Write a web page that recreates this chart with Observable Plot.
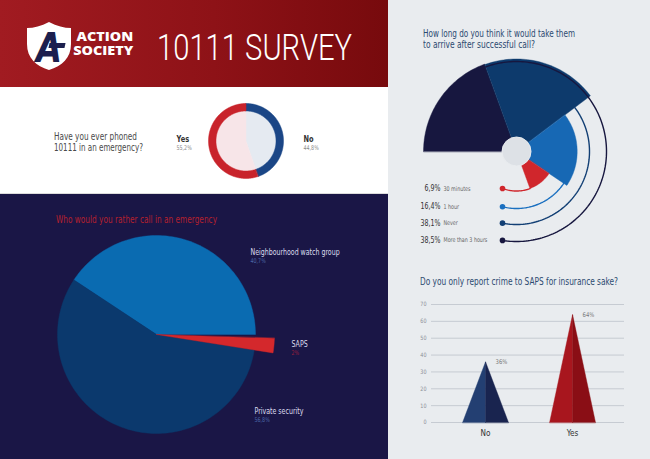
<!DOCTYPE html>
<html><head><meta charset="utf-8">
<script src="https://cdn.jsdelivr.net/npm/d3@7"></script>
<script src="https://cdn.jsdelivr.net/npm/@observablehq/plot@0.6"></script>
<style>
html,body{margin:0;padding:0;background:#e9ecef;}
#root{position:relative;width:650px;height:459px;overflow:hidden;background:#e9ecef;
 font-family:"Liberation Sans Narrow","DejaVu Sans Condensed","Roboto Condensed","Arial Narrow",sans-serif;}
.abs{position:absolute;}
.abs svg{display:block;}
</style></head><body><div id="root"></div>
<script>
// ---------------- DATA ----------------
const phonedCats = ["No", "Yes"];
const phonedVals = [44.8, 55.2];
const phonedPct = ["44,8%", "55,2%"];

const callCats = ["Neighbourhood watch group", "Private security", "SAPS"];
const callVals = [40.7, 56.8, 2];
const callPct = ["40,7%", "56,8%", "2%"];

const arriveCats = ["More than 3 hours", "Never", "1 hour", "30 minutes"];
const arriveVals = [38.5, 38.1, 16.4, 6.9];
const arrivePct = ["38,5%", "38,1%", "16,4%", "6,9%"];

const insureCats = ["No", "Yes"];
const insureVals = [36, 64];
const insureTicks = [0, 10, 20, 30, 40, 50, 60, 70];

// ---------------- HELPERS ----------------
const root = document.getElementById("root");
const FONT = '"Liberation Sans Narrow","DejaVu Sans Condensed","Roboto Condensed","Arial Narrow",sans-serif';
function box(x, y, w, h, style) {
  const d = document.createElement("div"); d.className = "abs";
  Object.assign(d.style, {left: x + "px", top: y + "px", width: w + "px", height: h + "px"}, style || {});
  root.appendChild(d); return d;
}
function txt(str, x, base, size, color, opt = {}) {
  const d = document.createElement("div"); d.className = "abs"; d.textContent = str;
  Object.assign(d.style, {left: x + "px", top: (base - size * 0.85) + "px", fontSize: size + "px",
    lineHeight: size + "px", color, whiteSpace: "nowrap"}, opt.style || {});
  root.appendChild(d);
  const w = d.getBoundingClientRect().width;
  let sx = 1;
  if (opt.width) { sx = opt.width / w; d.style.transformOrigin = "0 0"; d.style.transform = `scaleX(${sx})`; }
  if (opt.right !== undefined) d.style.left = (opt.right - w * sx) + "px";
  return d;
}
// condense the text of a rendered Plot (narrow typeface look)
function condense(svg, f) {
  svg.querySelectorAll("text").forEach(t => {
    const L = t.getComputedTextLength();
    if (L > 0) { t.setAttribute("textLength", L * f); t.setAttribute("lengthAdjust", "spacingAndGlyphs"); }
  });
}
function place(svg, x, y, f = 0.82) {
  const d = box(x, y, svg.getAttribute("width"), svg.getAttribute("height"));
  d.appendChild(svg); condense(svg, f);
}
// sector polygon; angles clockwise from north, screen coords (y down)
function sector(cx, cy, r0, r1, a0, a1, key, color) {
  const pts = [], n = Math.max(2, Math.ceil(Math.abs(a1 - a0) / 1.5));
  const P = (r, a) => ({x: cx + r * Math.sin(a * Math.PI / 180), y: cy - r * Math.cos(a * Math.PI / 180), key, color});
  for (let k = 0; k <= n; k++) pts.push(P(r1, a0 + (a1 - a0) * k / n));
  if (r0 > 0) for (let k = n; k >= 0; k--) pts.push(P(r0, a0 + (a1 - a0) * k / n));
  else pts.push({x: cx, y: cy, key, color});
  return pts;
}
function arcLine(cx, cy, r, a0, a1, key, color) {
  const pts = [], n = Math.max(2, Math.ceil(Math.abs(a1 - a0) / 1.5));
  for (let k = 0; k <= n; k++) { const a = (a0 + (a1 - a0) * k / n) * Math.PI / 180; pts.push({x: cx + r * Math.sin(a), y: cy - r * Math.cos(a), key, color}); }
  return pts;
}
function canvas(w, h, marks, extra = {}) {
  return Plot.plot(Object.assign({
    width: w, height: h, margin: 0,
    x: {domain: [0, w], range: [0, w], axis: null},
    y: {domain: [0, h], range: [0, h], axis: null},
    color: {type: "identity"},
    style: {background: "transparent", fontFamily: FONT, overflow: "visible"},
    marks
  }, extra));
}

// ---------------- BACKGROUNDS ----------------
box(0, 0, 388, 87, {background: "linear-gradient(90deg,#a11b21 0%,#8e1217 55%,#770a0d 100%)"});
box(0, 87, 388, 107, {background: "#ffffff", borderBottom: "1px solid #dcdcdc", boxSizing: "border-box"});
box(0, 194, 388, 265, {background: "#1a1646"});

// ---------------- HEADER ----------------
box(27, 22, 44, 48, {background: "#ffffff",
  clipPath: 'path("M22 0 C30 4 37 6 44 6 L44 22 C44 36 35 44 22 48 C9 44 0 36 0 22 L0 6 C7 6 14 4 22 0 Z")'});
txt("A", 36, 62, 40, "#1c1f4e", {style: {fontFamily: '"DejaVu Sans", sans-serif', fontWeight: "900", fontStyle: "italic"}, width: 26});
box(49, 43, 16, 5, {background: "#1c1f4e", transform: "skewX(-12deg)"});
{
  const d = document.createElement("div"); d.className = "abs";
  d.textContent = "ACTION\nSOCIETY";
  Object.assign(d.style, {top: "30px", fontFamily: '"Open Sans",sans-serif', fontWeight: "800", fontSize: "12.5px",
    lineHeight: "14px", color: "#ffffff", whiteSpace: "pre", textAlign: "right"});
  root.appendChild(d);
  const w = d.getBoundingClientRect().width, sx = 60 / w;
  d.style.transformOrigin = "100% 0"; d.style.transform = `scaleX(${sx})`;
  d.style.left = (133 - w) + "px";
}
txt("10111 SURVEY", 157, 61, 36, "#ffffff", {style: {fontFamily: 'Roboto, sans-serif', fontWeight: "300"}, width: 195});

// ---------------- DONUT: phoned 10111 ----------------
{
  const cx = 245.5, cy = 53.5, rIn = 30, rOut = 37.5;
  const soft = {No: "#e5eaf1", Yes: "#f7e5e8"}, strong = {No: "#1b4686", Yes: "#c8232b"};
  let a = 0; const fills = [], rings = [];
  phonedCats.forEach((c, i) => {
    const a1 = a + phonedVals[i] * 3.6;
    fills.push(...sector(cx, cy, 0, rIn, a, a1, c + "f", soft[c]));
    rings.push(...sector(cx, cy, rIn, rOut, a, a1, c + "r", strong[c]));
    a = a1;
  });
  const labelX = {No: 303, Yes: 176};
  const svg = canvas(388, 107, [
    Plot.line(fills, {x: "x", y: "y", z: "key", fill: "color", stroke: "color", strokeWidth: 0.5, curve: "linear-closed"}),
    Plot.line(rings, {x: "x", y: "y", z: "key", fill: "color", stroke: "color", strokeWidth: 0.5, curve: "linear-closed"}),
    Plot.text(phonedCats, {x: d => labelX[d], y: 52, text: d => d, textAnchor: "start", fontSize: 9, fontWeight: "bold", fill: "#333"}),
    Plot.text(phonedCats, {x: d => labelX[d], y: 60, text: (d, i) => phonedPct[i], textAnchor: "start", fontSize: 6.5, fill: "#8a8a8a"})
  ]);
  place(svg, 0, 87);
}
txt("Have you ever phoned", 54, 140.5, 10, "#4a4a4a", {width: 83});
txt("10111 in an emergency?", 54, 151, 10, "#4a4a4a", {width: 89});

// ---------------- PIE: who would you call ----------------
txt("Who would you rather call in an emergency", 56, 223.5, 10, "#b5202e", {width: 161});
{
  const cx = 156, cy = 140, R = 99;
  const col = {"Neighbourhood watch group": "#0a6bb1", "Private security": "#0b396d", "SAPS": "#d4282c"};
  const rad = {"Neighbourhood watch group": R, "Private security": R, "SAPS": 118};
  let a = 90; const pts = [];
  callCats.forEach((c, i) => {           // counter-clockwise from 3 o'clock
    const a1 = a - callVals[i] * 3.6;
    pts.push(...sector(cx, cy, 0, rad[c], a1, a, c, col[c]));
    a = a1;
  });
  const lab = {"Neighbourhood watch group": [250, 58], "SAPS": [291, 150], "Private security": [254, 217]};
  const pctCol = {"Neighbourhood watch group": "#4b66a6", "SAPS": "#9b1f3d", "Private security": "#4b66a6"};
  const svg = canvas(388, 265, [
    Plot.line(pts, {x: "x", y: "y", z: "key", fill: "color", stroke: "color", strokeWidth: 0.4, curve: "linear-closed"}),
    Plot.text(callCats, {x: d => lab[d][0], y: d => lab[d][1], text: d => d, textAnchor: "start", fontSize: 8.5, fill: "#dcdcee"}),
    Plot.text(callCats, {x: d => lab[d][0], y: d => lab[d][1] + 8, text: (d, i) => callPct[i], textAnchor: "start", fontSize: 6.5, fill: d => pctCol[d]})
  ]);
  place(svg, 0, 194);
}

// ---------------- RADIAL: arrival time ----------------
txt("How long do you think it would take them", 423, 37.5, 10, "#2c4a70", {width: 152});
txt("to arrive after successful call?", 423, 48, 10, "#2c4a70", {width: 112});
{
  const cx = 128, cy = 96;                     // plot origin is (388,55)
  const rScale = d3.scaleSqrt().domain([0, 38.5]).range([0, 93]);
  const sweep = [70, 73, 71, 36];              // angular layout of the segments
  const leaderR = [90, 73, 57, 39.5];
  const col = ["#17173f", "#0d3a6c", "#1768b4", "#d0262c"];
  const lineCol = ["#17173f", "#123f74", "#1b70c0", "#d0262c"];
  let a = -90; const seg = [], lead = [], dots = [];
  arriveCats.forEach((c, i) => {
    const a1 = a + sweep[i];
    seg.push(...sector(cx, cy, 0, rScale(arriveVals[i]), a, a1, c, col[i]));
    const aEnd = 180 + Math.asin(14 / leaderR[i]) * 180 / Math.PI;
    const arc = arcLine(cx, cy, leaderR[i], a1, aEnd, c, lineCol[i]);
    lead.push(...arc);
    dots.push({...arc[arc.length - 1], pct: arrivePct[i], cat: c});
    a = a1;
  });
  const svg = canvas(262, 200, [
    Plot.line(seg, {x: "x", y: "y", z: "key", fill: "color", stroke: "color", strokeWidth: 0.4, curve: "linear-closed"}),
    Plot.dot([{x: cx, y: cy}], {x: "x", y: "y", r: 14.5, fill: "#dde1e6", stroke: "#e9ecef", strokeWidth: 1}),
    Plot.line(lead, {x: "x", y: "y", z: "key", stroke: "color", strokeWidth: 1.4, fill: "none"}),
    Plot.dot(dots, {x: "x", y: "y", r: 2.8, fill: "color", stroke: "none"}),
    Plot.text(dots, {x: cx - 76, y: "y", text: "pct", textAnchor: "end", fontSize: 8.5, fill: "#333"}),
    Plot.text(dots, {x: cx - 73, y: "y", text: "cat", textAnchor: "start", fontSize: 6.5, fill: "#666"})
  ]);
  place(svg, 388, 55);
}

// ---------------- TRIANGLE BARS: insurance ----------------
txt("Do you only report crime to SAPS for insurance sake?", 420, 285.5, 10, "#2c4a70", {width: 198});
{
  const hw = 0.264;
  const shade = {No: ["#233f72", "#19244f"], Yes: ["#a8161e", "#8a0e15"]};
  const tri = [];
  insureCats.forEach((c, i) => {
    const v = insureVals[i];
    [[i - hw, 0], [i, v], [i, 0]].forEach(([x, y]) => tri.push({x, y, key: c + "L", color: shade[c][0]}));
    [[i, 0], [i, v], [i + hw, 0]].forEach(([x, y]) => tri.push({x, y, key: c + "R", color: shade[c][1]}));
  });
  const svg = Plot.plot({
    width: 262, height: 155,
    marginTop: 14, marginBottom: 23, marginLeft: 43, marginRight: 26,
    x: {domain: [-0.621, 1.597], axis: null},
    y: {domain: [0, 70], ticks: insureTicks, tickSize: 0, tickPadding: 5, label: null},
    color: {type: "identity"},
    style: {background: "transparent", fontFamily: FONT, fontSize: "6px", color: "#8a8f96", overflow: "visible"},
    marks: [
      Plot.ruleY(insureTicks, {stroke: "#c6cbd2", strokeWidth: 1}),
      Plot.line(tri, {x: "x", y: "y", z: "key", fill: "color", stroke: "color", strokeWidth: 0.4, curve: "linear-closed"}),
      Plot.text(insureVals, {x: (d, i) => i, y: d => d, text: d => d + "%", dx: 10, textAnchor: "start", fontSize: 6.5, fill: "#7a7a7a"}),
      Plot.text(insureCats, {x: (d, i) => i, y: 0, text: d => d, dy: 11, fontSize: 9, fill: "#333"})
    ]
  });
  place(svg, 388, 290, 0.9);
}
</script></body></html>
